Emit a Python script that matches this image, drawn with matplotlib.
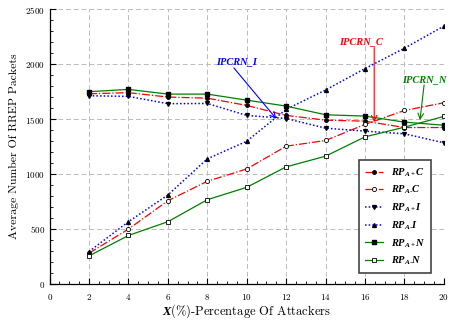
import numpy as np
import matplotlib
matplotlib.use('Agg')
import matplotlib.pyplot as plt
from matplotlib.ticker import MultipleLocator

plt.rcParams['font.family'] = 'cmr10'
plt.rcParams['axes.formatter.use_mathtext'] = True
plt.rcParams['mathtext.fontset'] = 'custom'
plt.rcParams['mathtext.it'] = 'Liberation Serif:italic:bold'
plt.rcParams['mathtext.rm'] = 'Liberation Serif:bold'
plt.rcParams['mathtext.bf'] = 'Liberation Serif:italic:bold'

## data
attackers = [2, 4, 6, 8, 10, 12, 14, 16, 18, 20]
rp_plus_c = [1730, 1740, 1700, 1690, 1624, 1533, 1490, 1481, 1423, 1423]
rp_minus_c = [280, 499, 757, 934, 1046, 1253, 1305, 1451, 1578, 1648]
rp_plus_i = [1712, 1706, 1640, 1642, 1533, 1505, 1417, 1390, 1366, 1284]
rp_minus_i = [295, 566, 809, 1138, 1298, 1588, 1764, 1959, 2144, 2345]
rp_plus_n = [1749, 1770, 1727, 1727, 1672, 1618, 1539, 1527, 1472, 1444]
rp_minus_n = [255, 441, 566, 766, 879, 1065, 1162, 1338, 1426, 1524]

fig = plt.figure(figsize=(4.51, 3.26), dpi=100)
ax = fig.add_axes([0.110, 0.129, 0.874, 0.843])

dots = (0, (1, 1.4))
ax.plot(attackers, rp_plus_c, color='red', ls='-.', lw=0.9, marker='o', ms=2.5,
        mfc='black', mec='black', label=r'$RP_{A+}C$')
ax.plot(attackers, rp_minus_c, color='red', ls='-.', lw=0.9, marker='o', ms=3,
        mfc='white', mec='black', mew=0.6, label=r'$RP_{A\text{-}}C$')
ax.plot(attackers, rp_plus_i, color='blue', ls=dots, lw=1.1, marker='v', ms=2.8,
        mfc='black', mec='black', label=r'$RP_{A+}I$')
ax.plot(attackers, rp_minus_i, color='blue', ls=dots, lw=1.1, marker='^', ms=2.8,
        mfc='black', mec='black', label=r'$RP_{A\text{-}}I$')
ax.plot(attackers, rp_plus_n, color='green', ls='-', lw=0.9, marker='s', ms=3.5,
        mfc='black', mec='black', label=r'$RP_{A+}N$')
ax.plot(attackers, rp_minus_n, color='green', ls='-', lw=0.9, marker='s', ms=3,
        mfc='white', mec='black', mew=0.6, label=r'$RP_{A\text{-}}N$')

# annotations
txt = dict(fontsize=7.5, family='Liberation Serif', weight='bold', style='italic',
           ha='center', va='center')
ax.text(9.5, 2025, 'IPCRN_I', color='blue', **txt)
ax.annotate('', xy=(11.5, 1503), xytext=(9.35, 1965),
            arrowprops=dict(arrowstyle='->', color='blue', lw=0.8, shrinkA=0, shrinkB=0))
ax.text(15.8, 2208, 'IPCRN_C', color='red', **txt)
ax.annotate('', xy=(16.47, 1472), xytext=(16.47, 2150),
            arrowprops=dict(arrowstyle='->', color='red', lw=0.8, shrinkA=0, shrinkB=0))
ax.text(19.0, 1861, 'IPCRN_N', color='green', **txt)
ax.annotate('', xy=(18.79, 1490), xytext=(19.0, 1810),
            arrowprops=dict(arrowstyle='->', color='green', lw=0.8, shrinkA=0, shrinkB=0))

ax.set_xlim(0, 20)
ax.set_ylim(0, 2500)
ax.xaxis.set_major_locator(MultipleLocator(2))
ax.xaxis.set_minor_locator(MultipleLocator(0.5))
ax.yaxis.set_major_locator(MultipleLocator(500))
ax.yaxis.set_minor_locator(MultipleLocator(100))
ax.tick_params(which='both', direction='in', labelsize=6.5, top=False, right=False)
ax.tick_params(which='major', length=4, width=0.8)
ax.tick_params(which='minor', length=2, width=0.6)
ax.tick_params(axis='x', pad=6)
ax.grid(True, which='major', color='#bbbbbb', ls=(0, (5, 3)), lw=0.7)
ax.spines['top'].set_visible(False)
ax.spines['right'].set_visible(False)
for s in ('left', 'bottom'):
    ax.spines[s].set_linewidth(0.9)

ax.set_xlabel(r'$X$(%)-Percentage Of Attackers', fontsize=9, labelpad=0)
ax.set_ylabel('Average Number Of RREP Packets', fontsize=8.5, labelpad=4)

leg = ax.legend(loc='lower right', bbox_to_anchor=(0.968, 0.04), fontsize=7.5,
                fancybox=False, framealpha=1, edgecolor='#444444', handlelength=1.7,
                labelspacing=0.5, borderpad=0.55, handletextpad=0.8, borderaxespad=0)
leg.get_frame().set_linewidth(1.2)

fig.savefig('out.png', dpi=100)
